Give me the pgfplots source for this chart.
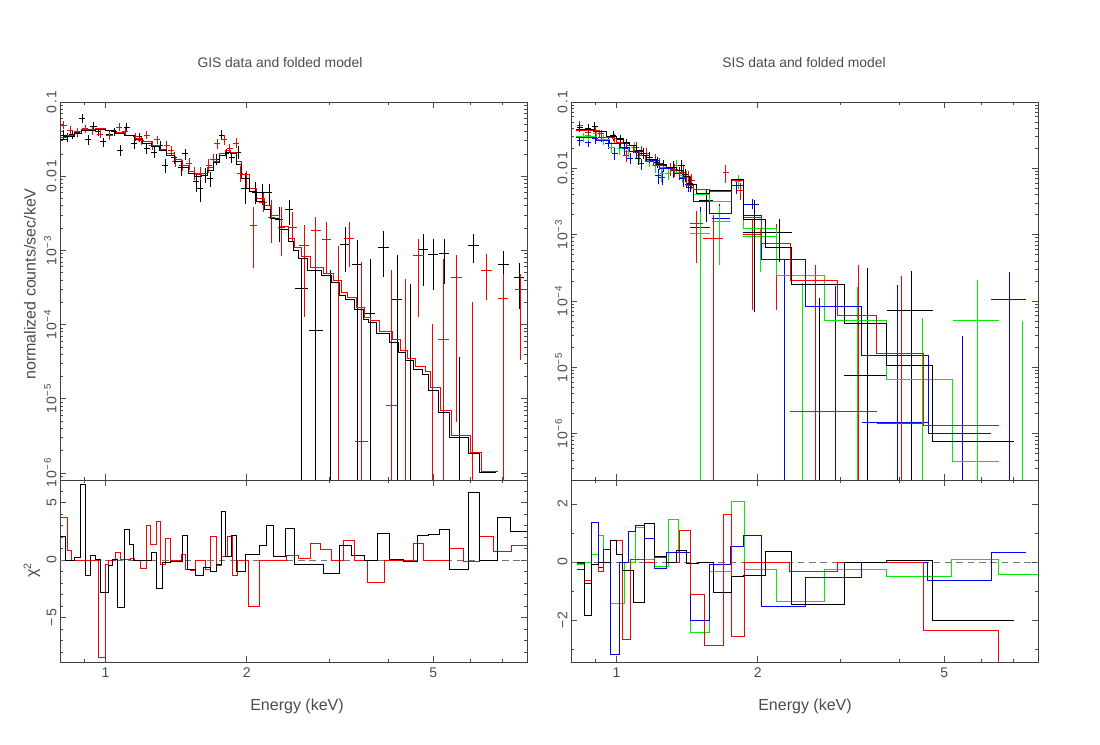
\documentclass[border=0pt]{standalone}
\usepackage{fontspec}
\setmainfont{Liberation Sans}
\newfontfamily\tickfont{Liberation Sans}[LetterSpace=12]
\usepackage{pgfplots}
\usepackage{pgfplotstable}
\pgfplotsset{compat=1.18}

\definecolor{pgred}{RGB}{255,0,0}
\definecolor{pggreen}{RGB}{0,235,0}
\definecolor{pgblue}{RGB}{0,0,255}
\definecolor{txt}{RGB}{75,75,75}

% ---------------- GIS (left) ----------------
\pgfplotstableread{
E v
0.800 0.031
0.830 0.034
0.860 0.038
0.890 0.041
0.950 0.043
1.000 0.041
1.050 0.038
1.100 0.035
1.150 0.031
1.200 0.028
1.250 0.025
1.300 0.022
1.350 0.019
1.400 0.016
1.450 0.013
1.500 0.011
1.550 0.0100
1.600 0.0102
1.650 0.012
1.700 0.0155
1.750 0.019
1.800 0.021
1.850 0.020
1.900 0.0145
1.950 0.0093
2.030 0.0062
2.100 0.0045
2.180 0.0036
2.250 0.0027
2.350 0.0019
2.450 0.0013
2.510 0.00100
2.580 7.7e-4
2.700 5.4e-4
2.890 4.6e-4
3.030 3.7e-4
3.160 2.5e-4
3.240 2.2e-4
3.400 1.6e-4
3.540 1.16e-4
3.630 1.08e-4
3.780 7.5e-5
4.040 5.8e-5
4.210 4.2e-5
4.350 3.3e-5
4.530 2.5e-5
4.750 2.15e-5
4.870 1.31e-5
5.120 6.5e-6
5.420 3.0e-6
5.930 1.8e-6
6.280 1.0e-6
6.810 1.0e-6
}\gisBmod

\pgfplotstableread{
E v
0.800 0.033
0.830 0.036
0.860 0.040
0.890 0.043
0.950 0.044
1.000 0.042
1.050 0.039
1.100 0.036
1.150 0.032
1.200 0.029
1.250 0.026
1.300 0.023
1.350 0.020
1.400 0.017
1.450 0.014
1.500 0.0115
1.550 0.0105
1.600 0.0108
1.650 0.013
1.700 0.016
1.750 0.020
1.800 0.022
1.850 0.021
1.900 0.016
1.950 0.0105
2.030 0.0068
2.100 0.0050
2.180 0.0040
2.250 0.0030
2.350 0.0021
2.450 0.00145
2.530 0.00108
2.620 8.2e-4
2.740 5.8e-4
2.920 4.9e-4
3.060 3.9e-4
3.190 2.7e-4
3.280 2.3e-4
3.430 1.7e-4
3.570 1.25e-4
3.680 1.13e-4
3.830 8.0e-5
4.090 6.2e-5
4.260 4.5e-5
4.400 3.5e-5
4.580 2.7e-5
4.800 2.3e-5
4.930 1.4e-5
5.170 7.0e-6
5.470 3.2e-6
5.990 1.9e-6
6.340 1.05e-6
6.880 1.05e-6
}\gisRmod

\pgfplotstableread{
E v r
0.815 0.036 0.15
0.830 0.034 0.14
0.850 0.037 0.14
0.870 0.039 0.14
0.893 0.060 0.14
0.920 0.031 0.15
0.943 0.047 0.13
0.965 0.040 0.13
0.990 0.029 0.14
1.020 0.037 0.13
1.045 0.040 0.13
1.075 0.0225 0.16
1.110 0.046 0.13
1.150 0.0277 0.15
1.180 0.034 0.14
1.225 0.0237 0.15
1.270 0.021 0.16
1.307 0.026 0.15
1.340 0.0141 0.22
1.400 0.018 0.18
1.450 0.013 0.22
1.480 0.020 0.18
1.560 0.0084 0.27
1.590 0.0068 0.35
1.630 0.0104 0.22
1.670 0.0093 0.24
1.720 0.017 0.18
1.770 0.036 0.15
1.810 0.020 0.16
1.860 0.018 0.17
1.920 0.021 0.20
}\gisBlo

\pgfplotstableread{
E v r
0.815 0.0489 0.12
0.840 0.0419 0.12
0.870 0.040 0.12
0.905 0.044 0.12
0.940 0.041 0.12
0.975 0.037 0.12
1.020 0.035 0.12
1.070 0.046 0.12
1.100 0.040 0.12
1.160 0.034 0.12
1.190 0.030 0.13
1.225 0.036 0.13
1.260 0.026 0.14
1.290 0.031 0.13
1.350 0.026 0.14
1.380 0.022 0.15
1.410 0.016 0.16
1.460 0.014 0.17
1.510 0.0148 0.17
1.550 0.011 0.20
1.590 0.011 0.20
1.660 0.014 0.20
1.700 0.017 0.18
1.730 0.0277 0.15
1.790 0.031 0.15
1.840 0.024 0.14
1.900 0.028 0.15
1.940 0.011 0.25
2.000 0.0093 0.25
}\gisRlo

\pgfplotstableread{
E xl xh v lo hi
1.983 1.95 2.02 0.0068 0.00427 0.0109
2.083 2.05 2.12 0.00614 0.00427 0.00838
2.163 2.13 2.20 0.00614 0.00406 0.00796
2.235 2.20 2.27 0.00601 0.00406 0.00796
2.347 2.30 2.39 0.0026 0.0013 0.00385
2.465 2.42 2.51 0.00355 0.00218 0.00474
2.610 2.53 2.70 3.04e-4 2e-7 7.7e-4
2.809 2.71 2.91 8.3e-5 2e-7 8.1e-4
3.020 2.95 3.09 1e-7 1e-8 5.4e-4
3.244 3.17 3.32 0.00119 5.1e-4 0.00207
3.440 3.36 3.52 6.4e-4 2e-7 0.00137
3.673 3.58 3.76 1.42e-4 2e-7 7.7e-4
3.921 3.82 4.02 0.00111 4.36e-4 0.00181
4.186 4.08 4.29 2.15e-4 2e-7 8.56e-4
4.476 4.37 4.58 1e-7 1e-8 3.47e-4
4.754 4.64 4.87 0.00102 3.27e-4 0.00168
4.993 4.87 5.12 8.74e-4 2.88e-4 0.00141
5.270 5.14 5.40 9.0e-4 3.55e-4 0.00144
5.674 5.53 5.82 1e-7 1e-8 3.6e-5
6.095 5.94 6.25 0.00117 6.8e-4 0.00164
7.060 6.88 7.24 6.4e-4 3.04e-4 9.7e-4
7.610 7.42 7.80 4.36e-4 1.63e-4 6.74e-4
}\gisBhi

\pgfplotstableread{
E xl xh v lo hi
2.066 2.03 2.10 0.00218 5.83e-4 0.00385
2.170 2.13 2.21 0.0045 0.0033 0.0060
2.261 2.22 2.30 0.0028 0.00127 0.00474
2.374 2.33 2.42 0.00207 8.3e-4 0.00385
2.505 2.45 2.56 0.00207 0.0013 0.0033
2.649 2.59 2.71 0.00115 1.26e-4 0.00218
2.809 2.74 2.88 0.00183 5.37e-4 0.00282
2.960 2.89 3.03 0.00142 4.84e-4 0.00241
3.140 3.07 3.21 1e-7 1e-8 0.00115
3.308 3.23 3.39 0.00145 5.95e-4 0.00241
3.509 3.40 3.63 2.65e-6 2e-7 6.95e-4
4.078 3.97 4.19 8.0e-6 2e-7 5.37e-4
4.360 4.25 4.47 1e-7 1e-8 4.14e-4
4.647 4.53 4.77 8.47e-4 1.26e-4 0.00141
4.977 4.85 5.11 1e-7 1e-8 1.0e-4
5.260 5.12 5.40 6.3e-5 2e-7 7.7e-4
5.610 5.46 5.76 4.36e-4 4.8e-6 8.56e-4
6.045 5.89 6.20 1e-7 1e-8 2.0e-4
6.497 6.33 6.67 5.37e-4 2.11e-4 9.0e-4
7.040 6.86 7.22 2.27e-4 2e-7 4.84e-4
7.670 7.47 7.87 2.97e-4 3.27e-5 4.84e-4
}\gisRhi

\pgfplotstableread{
E c
0.801 2.05
0.821 0.0
0.858 0.26
0.884 6.6
0.908 -1.36
0.931 0.37
0.954 0.08
0.974 -2.86
1.015 -0.5
1.037 0.08
1.061 -4.1
1.096 2.7
1.123 1.4
1.147 0.0
1.255 0.7
1.286 -2.5
1.322 -0.2
1.373 -0.15
1.419 -0.1
1.461 2.1
1.497 -0.8
1.552 -1.36
1.617 -0.6
1.677 -1.0
1.727 -0.4
1.769 4.2
1.798 0.3
1.858 2.1
1.904 -1.0
1.990 0.5
2.128 1.3
2.206 3.0
2.279 0.29
2.413 2.77
2.527 -0.35
2.705 -0.4
2.912 -1.2
3.149 1.24
3.346 0.4
3.561 0.0
3.795 2.34
4.038 0.08
4.325 -0.1
4.625 2.14
4.872 2.2
5.143 2.7
5.418 -0.84
5.930 5.86
6.258 0.0
6.847 3.72
7.298 2.48
7.920 2.48
}\gisBres

\pgfplotstableread{
E c
0.801 3.7
0.828 0.84
0.848 0.0
0.968 -8.45
1.000 -0.35
1.015 0.0
1.049 0.7
1.075 0.08
1.129 0.17
1.151 0.0
1.190 -0.7
1.225 3.0
1.249 1.4
1.282 3.35
1.312 -0.35
1.344 1.9
1.378 0.0
1.449 0.5
1.483 -0.84
1.514 -0.9
1.552 0.0
1.636 -0.84
1.677 2.05
1.727 -0.5
1.769 0.34
1.822 2.05
1.867 -1.36
1.910 0.0
2.016 -4.0
2.128 0.0
2.433 0.43
2.576 0.17
2.729 1.44
2.879 0.9
3.034 0.0
3.222 1.7
3.390 0.0
3.620 -1.97
3.927 0.0
4.528 1.41
4.754 0.0
5.418 0.98
5.785 -0.1
6.279 2.05
6.703 0.75
7.333 1.27
7.920 1.27
}\gisRres

% ---------------- SIS (right) ----------------
\pgfplotstableread{
E v
0.821 0.038
0.891 0.036
0.952 0.030
1.000 0.028
1.033 0.025
1.068 0.022
1.103 0.0187
1.140 0.0157
1.159 0.0135
1.217 0.0115
1.279 0.0105
1.343 0.0093
1.388 0.0075
1.434 0.0058
1.480 0.0042
1.580 0.0047
1.760 0.0068
1.864 0.00169
2.074 6.34e-4
2.363 1.78e-4
3.062 4.62e-5
3.772 1.08e-5
4.727 7.6e-7
7.050 7.6e-7
}\sisBmod

\pgfplotstableread{
E v
0.821 0.0373
0.921 0.0296
0.984 0.028
1.000 0.025
1.050 0.0222
1.085 0.0187
1.121 0.0157
1.150 0.0125
1.197 0.0111
1.258 0.0105
1.321 0.0093
1.365 0.0072
1.411 0.0055
1.458 0.0048
1.580 0.0045
1.760 0.0066
1.864 0.00185
2.040 7.4e-4
2.344 2.02e-4
2.964 6.0e-5
3.591 1.6e-5
4.516 1.35e-6
6.540 1.35e-6
}\sisRmod

\pgfplotstableread{
E v
0.821 0.0296
0.906 0.0264
0.968 0.0235
1.016 0.0209
1.068 0.0178
1.140 0.0157
1.178 0.0132
1.237 0.0099
1.321 0.0083
1.365 0.0070
1.411 0.0052
1.458 0.0032
1.580 0.0021
1.760 0.0055
1.864 0.00196
2.040 4.27e-4
2.523 8.4e-5
3.334 1.52e-5
4.613 1.0e-6
6.290 1.0e-6
}\sisUmod

\pgfplotstableread{
E v
0.821 0.030
0.906 0.027
0.968 0.024
1.016 0.021
1.068 0.018
1.140 0.0155
1.178 0.013
1.237 0.0105
1.321 0.0088
1.365 0.0072
1.411 0.0055
1.458 0.0040
1.580 0.0032
1.760 0.0066
1.864 0.00124
2.196 2.43e-4
2.775 5.07e-5
3.772 6.5e-6
5.208 3.8e-7
6.540 3.8e-7
}\sisGmod

\pgfplotstableread{
E v r
0.835 0.0419 0.15
0.870 0.0400 0.15
0.899 0.0429 0.15
0.984 0.0314 0.17
1.020 0.0270 0.17
1.050 0.0235 0.18
1.112 0.0140 0.20
1.140 0.0170 0.20
1.178 0.0148 0.20
1.220 0.0125 0.20
1.258 0.0111 0.20
1.321 0.0105 0.22
1.376 0.0111 0.22
1.400 0.0080 0.22
1.434 0.0059 0.25
}\sisBlo

\pgfplotstableread{
E v r
0.835 0.0444 0.15
0.870 0.0352 0.15
0.900 0.0380 0.15
0.929 0.0332 0.15
0.992 0.0280 0.16
1.020 0.0240 0.17
1.050 0.0157 0.20
1.103 0.0209 0.18
1.130 0.0185 0.18
1.159 0.0166 0.20
1.210 0.0135 0.20
1.237 0.0118 0.20
1.300 0.0099 0.22
1.330 0.0095 0.22
1.388 0.0088 0.22
1.420 0.0075 0.22
1.446 0.0066 0.25
1.710 0.0086 0.30
1.833 0.0047 0.30
}\sisRlo

\pgfplotstableread{
E v r
0.835 0.0264 0.17
0.870 0.0249 0.17
0.900 0.0280 0.17
0.929 0.0296 0.15
0.960 0.0240 0.18
0.992 0.0166 0.20
1.042 0.0197 0.18
1.070 0.0143 0.20
1.103 0.0176 0.18
1.130 0.0117 0.20
1.159 0.0157 0.20
1.227 0.0078 0.25
1.250 0.0074 0.25
1.321 0.0093 0.22
1.360 0.0085 0.22
1.388 0.0070 0.25
1.420 0.0058 0.25
1.804 0.0055 0.25
}\sisUlo

\pgfplotstableread{
E v r
0.849 0.0296 0.16
0.870 0.0310 0.16
0.906 0.0332 0.15
0.940 0.0270 0.17
0.976 0.0209 0.18
1.016 0.0197 0.18
1.060 0.0180 0.18
1.090 0.0210 0.18
1.121 0.0157 0.20
1.178 0.0132 0.20
1.210 0.0110 0.22
1.247 0.0083 0.25
1.290 0.0085 0.22
1.343 0.0111 0.22
1.380 0.0078 0.22
1.411 0.0074 0.25
1.820 0.0064 0.25
}\sisGlo

\pgfplotstableread{
E xl xh v lo hi
1.556 1.500 1.610 0.0033 0.00157 0.00467
1.970 1.864 2.074 0.00107 6.9e-5 0.0033
2.220 2.074 2.363 0.00107 3.9e-4 0.00175
2.710 2.363 3.062 1e-7 1e-8 1.1e-4
3.420 3.062 3.772 7.6e-6 1.5e-7 3.1e-4
4.250 3.772 4.727 7.1e-5 1.5e-7 2.86e-4
}\sisBhi

\pgfplotstableread{
E xl xh v lo hi
1.480 1.434 1.530 0.0015 3.7e-4 0.0023
1.610 1.530 1.690 8.76e-4 1.5e-7 0.0020
1.950 1.864 2.040 0.0010 7.3e-5 0.0017
2.190 2.040 2.344 7.4e-4 7.3e-5 0.00147
2.654 2.344 2.964 2.14e-6 1.5e-7 3.48e-4
3.280 2.964 3.591 2.14e-6 1.5e-7 3.48e-4
4.050 3.591 4.516 1.45e-6 1.5e-7 2.38e-4
}\sisRhi

\pgfplotstableread{
E xl xh v lo hi
1.510 1.434 1.582 0.00131 1.5e-7 0.0026
1.660 1.600 1.750 0.00175 4.9e-4 0.0029
1.950 1.864 2.011 0.0029 0.0024 0.0035
2.280 2.040 2.523 1e-7 1e-8 4.27e-4
2.930 2.523 3.334 1e-7 1e-8 1.66e-4
3.970 3.334 4.613 1.48e-6 1.5e-7 1.74e-4
5.450 4.613 6.290 1e-7 1e-8 2.98e-5
6.880 6.290 7.470 1.06e-4 1.5e-7 2.76e-4
}\sisUhi

\pgfplotstableread{
E xl xh v lo hi
1.510 1.434 1.582 0.00104 1.5e-7 0.0022
1.660 1.600 1.750 0.0016 3.5e-4 0.0027
2.030 1.864 2.196 9.5e-4 2.77e-4 0.00124
2.490 2.196 2.775 1e-7 1e-8 1.85e-4
3.270 2.775 3.772 1e-7 1e-8 1.64e-4
4.490 3.772 5.208 1e-7 1e-8 5.6e-5
5.870 5.208 6.540 5.07e-5 1.5e-7 2.07e-4
7.320 6.540 8.100 1e-7 1e-8 5.07e-5
}\sisGhi

\pgfplotstableread{
E c
0.824 0.0
0.856 -1.84
0.884 -0.1
0.914 0.0
0.971 0.74
1.000 0.27
1.030 -0.29
1.089 -1.38
1.149 1.33
1.207 0.2
1.279 0.0
1.343 0.39
1.411 -0.06
1.494 0.0
1.613 -1.05
1.760 -0.49
1.864 -0.45
2.073 0.37
2.363 -1.46
3.062 0.0
3.758 0.07
4.718 -2.01
7.027 -2.01
}\sisBres

\pgfplotstableread{
E c
0.824 -0.05
0.856 -0.64
0.884 -0.1
0.914 -0.34
0.940 0.0
0.971 0.74
1.000 0.75
1.030 -2.66
1.071 0.08
1.149 0.0
1.207 0.16
1.279 0.0
1.365 1.08
1.441 -1.1
1.543 -2.86
1.689 1.63
1.760 -2.56
1.873 0.0
2.336 -0.34
2.963 0.0
4.514 -2.34
6.528 -4.5
7.500 -4.5
}\sisRres

\pgfplotstableread{
E c
0.824 -0.24
0.856 -0.74
0.884 1.37
0.914 -0.18
0.940 0.43
0.971 -3.18
1.016 0.0
1.059 1.05
1.099 1.25
1.149 0.82
1.207 -0.23
1.279 0.34
1.441 -2.01
1.582 -0.09
1.746 0.52
1.864 0.92
2.039 -1.54
2.523 -0.52
3.334 0.0
4.603 -0.64
6.287 0.34
7.464 0.34
}\sisUres

\pgfplotstableread{
E c
0.824 -0.07
0.856 0.0
0.884 0.27
0.914 0.93
0.940 0.0
0.971 -1.41
1.040 0.0
1.099 1.2
1.149 0.08
1.207 -0.15
1.290 1.47
1.355 0.34
1.441 -2.43
1.582 -0.32
1.760 2.08
1.873 -0.25
2.195 -1.37
2.775 -0.25
3.758 -0.48
5.189 0.09
6.528 -0.43
7.945 -0.43
}\sisGres

% crosses: error bars only, no marker
\newcommand{\relcross}[2]{\addplot[#1, only marks, mark=*, mark size=0pt,
  mark options={draw=none, fill=none},
  error bars/x dir=both, error bars/y dir=both,
  error bars/x explicit, error bars/y explicit, error bars/error mark=none,
  error bars/error bar style={#1, line width=0.55pt, solid}]
  table[x=E, y=v, x error expr=0.015*\thisrow{E}, y error expr=\thisrow{r}*\thisrow{v}] {#2};}
\newcommand{\abscross}[2]{\addplot[#1, only marks, mark=*, mark size=0pt,
  mark options={draw=none, fill=none},
  error bars/x dir=both, error bars/y dir=both,
  error bars/x explicit, error bars/y explicit, error bars/error mark=none,
  error bars/error bar style={#1, line width=0.55pt, solid}]
  table[x=E, y=v,
  x error plus expr=\thisrow{xh}-\thisrow{E}, x error minus expr=\thisrow{E}-\thisrow{xl},
  y error plus expr=\thisrow{hi}-\thisrow{v}, y error minus expr=\thisrow{v}-\thisrow{lo}] {#2};}

\begin{document}
\begin{tikzpicture}[text=txt]
\pgfplotsset{
  every axis/.append style={
    scale only axis, width=350.25pt, anchor=south west,
    xmin=0.8, xmax=7.92,
    xtick={1,2,5}, minor xtick={0.8,0.9,3,4,6,7},
    tick align=inside, tick pos=both,
    major tick length=4.5pt, minor tick length=2.25pt,
    every tick/.style={black!70, line width=0.45pt},
    axis line style={black!75, line width=0.6pt},
    tick label style={font=\tickfont\fontsize{10.5}{12}\selectfont, text=txt},
    yticklabel style={rotate=90, anchor=south, inner sep=2.5pt},
    xticklabel style={inner sep=4pt},
  },
}
\useasboundingbox (0,0) rectangle (825pt,558.75pt);

% ---- GIS spectrum ----
\begin{loglogaxis}[at={(45pt,198.75pt)}, height=283.5pt, xticklabels={},
  ymin=8e-7, ymax=0.1,
  ytick={1e-6,1e-5,1e-4,1e-3,0.01,0.1},
  yticklabels={10\textsuperscript{−6},10\textsuperscript{−5},10\textsuperscript{−4},10\textsuperscript{−3},0.01,0.1},
  minor ytick={8e-7,9e-7,2e-6,3e-6,4e-6,5e-6,6e-6,7e-6,8e-6,9e-6,2e-5,3e-5,4e-5,5e-5,6e-5,7e-5,8e-5,9e-5,2e-4,3e-4,4e-4,5e-4,6e-4,7e-4,8e-4,9e-4,2e-3,3e-3,4e-3,5e-3,6e-3,7e-3,8e-3,9e-3,0.02,0.03,0.04,0.05,0.06,0.07,0.08,0.09}]
  \relcross{black}{\gisBlo}
  \relcross{pgred}{\gisRlo}
  \abscross{black}{\gisBhi}
  \abscross{pgred}{\gisRhi}
  \addplot[const plot, line width=0.6pt, pgred] table[x=E, y=v] {\gisRmod};
  \addplot[const plot, line width=0.6pt, black] table[x=E, y=v] {\gisBmod};
\end{loglogaxis}

% ---- GIS residuals ----
\begin{semilogxaxis}[at={(45pt,62.25pt)}, height=136.5pt, xticklabels={1,2,5},
  ymin=-8.87, ymax=6.96,
  ytick={-5,0,5}, yticklabels={−5,0,5},
  minor ytick={-8,-7,-6,-4,-3,-2,-1,1,2,3,4,6}]
  \addplot[black!55, line width=0.5pt, dash pattern=on 5pt off 3.5pt] coordinates {(0.8,0) (7.92,0)};
  \addplot[const plot, line width=0.6pt, pgred] table[x=E, y=c] {\gisRres};
  \addplot[const plot, line width=0.6pt, black] table[x=E, y=c] {\gisBres};
\end{semilogxaxis}

% ---- SIS spectrum ----
\begin{loglogaxis}[at={(428.25pt,198.75pt)}, height=283.5pt, xticklabels={},
  ymin=2e-7, ymax=0.1,
  ytick={1e-6,1e-5,1e-4,1e-3,0.01,0.1},
  yticklabels={10\textsuperscript{−6},10\textsuperscript{−5},10\textsuperscript{−4},10\textsuperscript{−3},0.01,0.1},
  minor ytick={2e-7,3e-7,4e-7,5e-7,6e-7,7e-7,8e-7,9e-7,2e-6,3e-6,4e-6,5e-6,6e-6,7e-6,8e-6,9e-6,2e-5,3e-5,4e-5,5e-5,6e-5,7e-5,8e-5,9e-5,2e-4,3e-4,4e-4,5e-4,6e-4,7e-4,8e-4,9e-4,2e-3,3e-3,4e-3,5e-3,6e-3,7e-3,8e-3,9e-3,0.02,0.03,0.04,0.05,0.06,0.07,0.08,0.09}]
  \relcross{pgblue}{\sisUlo}
  \relcross{pggreen}{\sisGlo}
  \relcross{pgred}{\sisRlo}
  \relcross{black}{\sisBlo}
  \abscross{pgblue}{\sisUhi}
  \abscross{pggreen}{\sisGhi}
  \abscross{pgred}{\sisRhi}
  \abscross{black}{\sisBhi}
  \addplot[const plot, line width=0.6pt, pggreen] table[x=E, y=v] {\sisGmod};
  \addplot[const plot, line width=0.6pt, pgblue] table[x=E, y=v] {\sisUmod};
  \addplot[const plot, line width=0.6pt, pgred] table[x=E, y=v] {\sisRmod};
  \addplot[const plot, line width=0.6pt, black] table[x=E, y=v] {\sisBmod};
\end{loglogaxis}

% ---- SIS residuals ----
\begin{semilogxaxis}[at={(428.25pt,62.25pt)}, height=136.5pt, xticklabels={1,2,5},
  ymin=-3.44, ymax=2.82,
  ytick={-2,0,2}, yticklabels={−2,0,2}, minor ytick={-3,-1,1}]
  \addplot[black!55, line width=0.5pt, dash pattern=on 5pt off 3.5pt] coordinates {(0.8,0) (7.92,0)};
  \addplot[const plot, line width=0.6pt, pggreen] table[x=E, y=c] {\sisGres};
  \addplot[const plot, line width=0.6pt, pgblue] table[x=E, y=c] {\sisUres};
  \addplot[const plot, line width=0.6pt, pgred] table[x=E, y=c] {\sisRres};
  \addplot[const plot, line width=0.6pt, black] table[x=E, y=c] {\sisBres};
\end{semilogxaxis}

\begin{scope}[font=\fontsize{10.4}{12}\selectfont]
\node at (210pt,511.5pt) {GIS data and folded model};
\node at (603pt,511.5pt) {SIS data and folded model};
\end{scope}
\begin{scope}[font=\fontsize{12}{14}\selectfont]
\node at (222.75pt,29.25pt) {Energy (keV)};
\node at (603.75pt,29.25pt) {Energy (keV)};
\node[rotate=90] at (22.5pt,345.75pt) {normalized counts/sec/keV};
\node[rotate=90] at (24pt,131.25pt) {χ\textsuperscript{2}};
\end{scope}
\end{tikzpicture}
\end{document}
